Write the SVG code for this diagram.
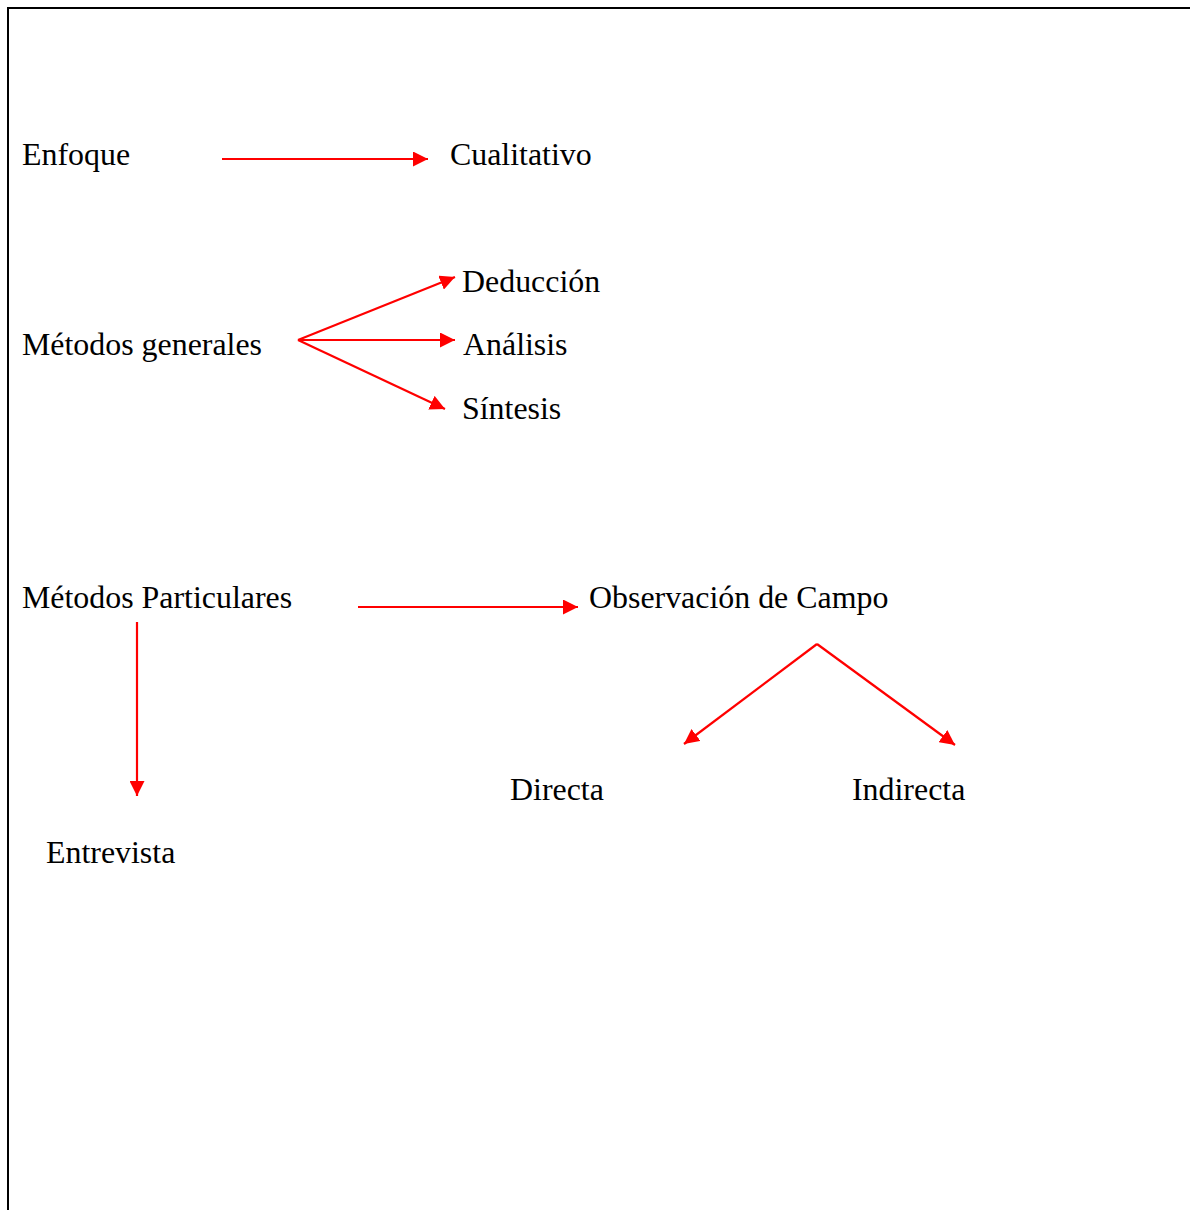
<svg xmlns="http://www.w3.org/2000/svg" width="1190" height="1210" viewBox="0 0 1190 1210">
  <style>
    .lbl { font-family: "Liberation Serif", "Times New Roman", serif; font-size: 31.9px; fill: #000; }
    .edge { stroke: #ff0000; stroke-width: 2.2; fill: none; }
    .frame { stroke: #000; stroke-width: 2; fill: none; }
  </style>
  <defs>
    <marker id="head" viewBox="0 0 15 15" refX="15" refY="7.5" markerWidth="15" markerHeight="15" markerUnits="userSpaceOnUse" orient="auto">
      <path d="M0,0 L15,7.5 L0,15 Z" fill="#ff0000"/>
    </marker>
  </defs>
  <rect width="1190" height="1210" fill="#fff"/>

  <!-- page frame -->
  <path class="frame" d="M8,1210 L8,8 L1190,8"/>

  <g id="connectors">
    <line class="edge" x1="222" y1="159" x2="428" y2="159" marker-end="url(#head)"/>
    <line class="edge" x1="298" y1="340" x2="455" y2="277" marker-end="url(#head)"/>
    <line class="edge" x1="298" y1="340" x2="455" y2="340" marker-end="url(#head)"/>
    <line class="edge" x1="298" y1="340" x2="445" y2="409" marker-end="url(#head)"/>
    <line class="edge" x1="358" y1="607" x2="578" y2="607" marker-end="url(#head)"/>
    <line class="edge" x1="137" y1="622" x2="137" y2="796" marker-end="url(#head)"/>
    <path class="edge" d="M817,644 L684,744" marker-end="url(#head)"/>
    <path class="edge" d="M817,644 L955,745" marker-end="url(#head)"/>
  </g>

  <g id="enfoque"><text class="lbl" x="22" y="165">Enfoque</text></g>
  <g id="cualitativo"><text class="lbl" x="450" y="165">Cualitativo</text></g>
  <g id="metodos-generales"><text class="lbl" x="22" y="355">Métodos generales</text></g>
  <g id="deduccion"><text class="lbl" x="462" y="292">Deducción</text></g>
  <g id="analisis"><text class="lbl" x="463" y="355">Análisis</text></g>
  <g id="sintesis"><text class="lbl" x="462" y="419">Síntesis</text></g>
  <g id="metodos-particulares"><text class="lbl" x="22" y="608">Métodos Particulares</text></g>
  <g id="observacion"><text class="lbl" x="589" y="608">Observación de Campo</text></g>
  <g id="directa"><text class="lbl" x="510" y="800">Directa</text></g>
  <g id="indirecta"><text class="lbl" x="852" y="800">Indirecta</text></g>
  <g id="entrevista"><text class="lbl" x="46" y="863">Entrevista</text></g>
</svg>
